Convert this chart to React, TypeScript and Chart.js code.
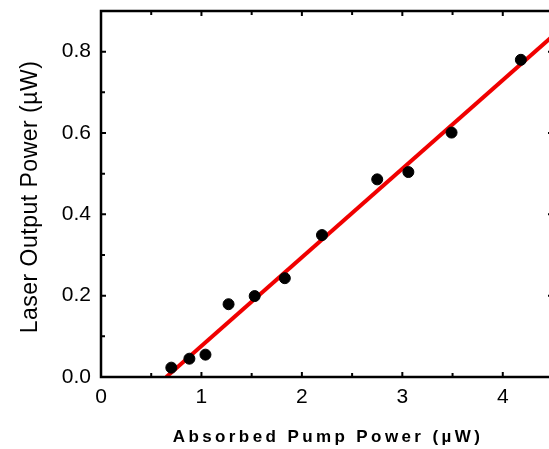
import React, { useEffect, useRef } from "react";
import { Chart, registerables } from "chart.js";

Chart.register(...registerables);

const pumpPower = [0.70, 0.88, 1.04, 1.27, 1.53, 1.83, 2.20, 2.75, 3.06, 3.49, 4.18];
const outputPower = [0.023, 0.045, 0.055, 0.179, 0.199, 0.243, 0.349, 0.486, 0.504, 0.601, 0.780];
const fitX = [0.65, 4.5];
const fitY = [0.0, 0.839];
const xMajorTicks = [0, 1, 2, 3, 4];
const xMinorTicks = [0.5, 1.5, 2.5, 3.5];
const yMajorTicks = [0.2, 0.4, 0.6, 0.8];
const yMinorTicks = [0.1, 0.3, 0.5, 0.7];
const xTitle = "Absorbed Pump Power (\u00b5W)";
const yTitle = "Laser Output Power (\u00b5W)";

const FONT = "'Liberation Sans', Arial, sans-serif";

const framePlugin = {
  id: "frame",
  afterDraw(chart: any) {
    const { ctx, chartArea, scales } = chart;
    const { left, right, top, bottom } = chartArea;
    const xs = scales.x;
    const ys = scales.y;
    ctx.save();
    ctx.strokeStyle = "#000";
    ctx.lineWidth = 2;
    ctx.beginPath();
    const xt = (vals: number[], len: number) => {
      vals.forEach((v) => {
        const px = xs.getPixelForValue(v);
        ctx.moveTo(px, bottom);
        ctx.lineTo(px, bottom - len);
        ctx.moveTo(px, top);
        ctx.lineTo(px, top + len);
      });
    };
    const yt = (vals: number[], len: number) => {
      vals.forEach((v) => {
        const py = ys.getPixelForValue(v);
        ctx.moveTo(left, py);
        ctx.lineTo(left + len, py);
        ctx.moveTo(right, py);
        ctx.lineTo(right - len, py);
      });
    };
    xt(xMajorTicks, 5);
    xt(xMinorTicks, 4);
    yt(yMajorTicks, 5);
    yt(yMinorTicks, 4);
    ctx.stroke();
    ctx.lineWidth = 2.5;
    ctx.strokeRect(left, top, right - left, bottom - top);

    ctx.fillStyle = "#000";
    // x title
    ctx.font = `bold 17px ${FONT}`;
    (ctx as any).letterSpacing = "3.4px";
    ctx.textAlign = "center";
    ctx.textBaseline = "middle";
    ctx.fillText(xTitle, 328, 437);
    // y title
    ctx.font = `23px ${FONT}`;
    (ctx as any).letterSpacing = "0.5px";
    ctx.translate(31, 197);
    ctx.rotate(-Math.PI / 2);
    ctx.fillText(yTitle, 0, 0);
    ctx.restore();
  },
};

export default function App() {
  const ref = useRef<HTMLCanvasElement>(null);
  useEffect(() => {
    if (!ref.current) return;
    const chart = new Chart(ref.current, {
      type: "scatter",
      data: {
        datasets: [
          {
            label: "Measured",
            data: pumpPower.map((x, i) => ({ x, y: outputPower[i] })),
            backgroundColor: "#000",
            borderColor: "#000",
            pointRadius: 5.5,
            pointHoverRadius: 5.5,
          },
          {
            label: "Fit",
            type: "line",
            data: fitX.map((x, i) => ({ x, y: fitY[i] })),
            borderColor: "#f00000",
            borderWidth: 4,
            pointRadius: 0,
            showLine: true,
            fill: false,
          } as any,
        ],
      },
      options: {
        responsive: false,
        animation: false,
        layout: { padding: { top: 11, right: 7, bottom: 0, left: 0 } },
        plugins: {
          legend: { display: false },
          tooltip: { enabled: false },
        },
        scales: {
          x: {
            type: "linear",
            min: 0,
            max: 4.5,
            grid: { display: false, drawTicks: false },
            border: { display: false },
            ticks: {
              stepSize: 1,
              includeBounds: false,
              color: "#000",
              padding: 8,
              font: { family: FONT, size: 21 },
              callback: (v: any) => String(v),
            },
            afterFit: (s: any) => {
              s.height = 72;
              s.paddingLeft = 0;
              s.paddingRight = 0;
            },
          },
          y: {
            type: "linear",
            min: 0,
            max: 0.9,
            grid: { display: false, drawTicks: false },
            border: { display: false },
            ticks: {
              stepSize: 0.2,
              includeBounds: false,
              color: "#000",
              padding: 10,
              font: { family: FONT, size: 21 },
              callback: (v: any) => Number(v).toFixed(1),
            },
            afterFit: (s: any) => {
              s.width = 101;
              s.paddingTop = 0;
              s.paddingBottom = 0;
            },
          },
        },
      },
      plugins: [framePlugin],
    });
    return () => chart.destroy();
  }, []);
  return (
    <div
      style={{
        position: "fixed",
        left: 0,
        top: 0,
        width: 549,
        height: 449,
        overflow: "hidden",
        background: "#fff",
      }}
    >
      <canvas ref={ref} width={560} height={449} style={{ display: "block" }} />
    </div>
  );
}
